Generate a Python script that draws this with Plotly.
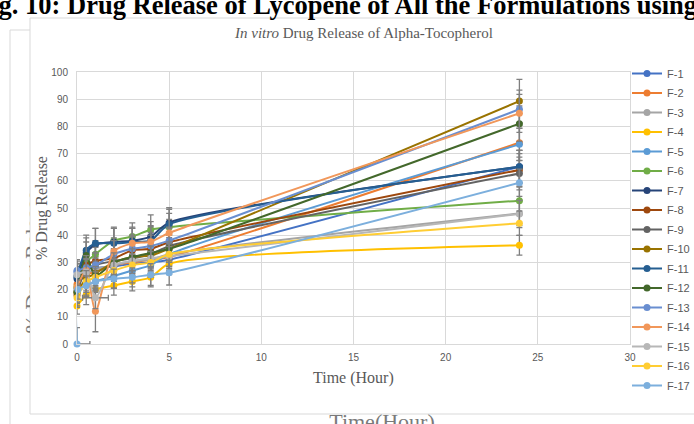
import plotly.graph_objects as go

# Sampling times (hours)
hours = [0, 0.5, 1, 2, 3, 4, 5, 24]
hours_f17 = [0, 0.05, 0.5, 1, 2, 3, 4, 5, 24]

# Cumulative % drug release per formulation
f1 = [26.5, 27.5, 28.0, 28.5, 29.5, 30.0, 31.0, 65.2]
f2 = [22.0, 25.5, 26.5, 29.0, 30.0, 31.0, 32.0, 74.0]
f3 = [24.5, 26.0, 27.5, 29.0, 30.5, 31.0, 33.0, 48.0]
f4 = [14.0, 18.0, 20.0, 21.5, 23.0, 24.5, 29.5, 36.3]
f5 = [20.5, 21.5, 23.0, 25.0, 27.0, 29.0, 33.0, 73.4]
f6 = [21.0, 30.0, 33.0, 38.0, 39.5, 42.0, 43.0, 52.7]
f7 = [24.0, 33.5, 36.5, 37.5, 38.0, 39.5, 44.6, 65.2]
f8 = [18.0, 29.0, 30.5, 31.5, 34.5, 35.0, 37.4, 64.0]
f9 = [19.5, 27.0, 29.0, 30.5, 31.5, 33.0, 36.0, 62.7]
f10 = [19.0, 24.0, 26.0, 30.0, 32.0, 32.5, 35.0, 89.3]
f11 = [25.0, 34.5, 37.0, 37.0, 37.5, 38.0, 44.0, 65.2]
f12 = [19.0, 32.5, 25.0, 30.0, 32.0, 33.5, 35.0, 81.0]
f13 = [27.0, 28.0, 29.0, 33.0, 35.0, 36.0, 38.0, 86.3]
f14 = [21.0, 27.0, 12.0, 34.0, 37.0, 37.6, 40.8, 84.8]
f15 = [25.5, 26.5, 17.0, 29.0, 30.5, 31.5, 32.3, 47.8]
f16 = [17.0, 23.0, 24.5, 27.0, 29.0, 30.0, 33.0, 44.4]
f17 = [0.0, 20.0, 21.5, 23.0, 24.0, 24.5, 25.5, 26.2, 59.3]

# Standard deviations
sd1 = [4.0, 4.5, 4.0, 4.0, 4.5, 4.5, 4.0, 6.0]
sd2 = [3.5, 4.0, 4.0, 4.5, 4.5, 5.0, 4.5, 6.5]
sd3 = [4.0, 4.0, 4.5, 4.0, 4.5, 4.5, 4.0, 4.5]
sd4 = [3.0, 3.5, 3.0, 3.5, 3.5, 3.5, 4.0, 3.6]
sd5 = [3.5, 4.0, 4.0, 4.5, 4.5, 4.5, 4.5, 6.0]
sd6 = [4.0, 5.0, 5.0, 5.0, 5.0, 5.5, 5.0, 5.0]
sd7 = [4.5, 5.5, 6.0, 5.0, 5.0, 5.5, 5.5, 6.0]
sd8 = [4.0, 5.0, 5.0, 5.0, 5.0, 5.0, 5.0, 6.0]
sd9 = [4.0, 4.5, 4.5, 4.5, 4.5, 5.0, 5.0, 6.0]
sd10 = [4.0, 4.5, 4.5, 4.5, 5.0, 5.0, 5.0, 8.0]
sd11 = [4.5, 5.5, 5.5, 5.5, 5.0, 5.5, 5.5, 6.0]
sd12 = [4.0, 5.0, 5.0, 5.0, 5.0, 5.0, 5.0, 6.5]
sd13 = [4.0, 4.5, 4.5, 5.0, 5.0, 5.0, 5.0, 7.0]
sd14 = [4.0, 4.5, 7.5, 5.0, 5.5, 5.5, 5.0, 7.0]
sd15 = [4.0, 4.5, 4.0, 4.5, 4.5, 4.5, 4.5, 5.0]
sd16 = [3.5, 4.0, 4.0, 4.0, 4.0, 4.0, 4.5, 4.5]
sd17 = [6.0, 3.5, 3.5, 3.5, 3.5, 3.5, 4.0, 4.5, 5.0]

# Horizontal (time) error
xerr15 = [0, 0, 0.7, 0, 0, 0, 0, 0]
xerr17 = [0.7, 0, 0, 0, 0, 0, 0, 0, 0]

names = ["F-1", "F-2", "F-3", "F-4", "F-5", "F-6", "F-7", "F-8", "F-9",
         "F-10", "F-11", "F-12", "F-13", "F-14", "F-15", "F-16", "F-17"]
colors = ["#4472C4", "#ED7D31", "#A5A5A5", "#FFC000", "#5B9BD5", "#70AD47",
          "#264478", "#9E480E", "#636363", "#997300", "#255E91", "#43682B",
          "#698ED0", "#F1975A", "#B7B7B7", "#FFCD33", "#7CAFDD"]

series = [f1, f2, f3, f4, f5, f6, f7, f8, f9, f10, f11, f12, f13, f14, f15, f16, f17]
sds = [sd1, sd2, sd3, sd4, sd5, sd6, sd7, sd8, sd9, sd10, sd11, sd12, sd13, sd14, sd15, sd16, sd17]

W, H = 694, 424


def px_x(p):
    return p / W


def px_y(p):
    return (H - p) / H


ERR = "#7f7f7f"
fig = go.Figure()

for i, (name, col, vals, sd) in enumerate(zip(names, colors, series, sds)):
    xs = hours_f17 if name == "F-17" else hours
    ex = None
    if name == "F-15":
        ex = dict(type="data", array=xerr15, color=ERR, thickness=1.3, width=3)
    elif name == "F-17":
        ex = dict(type="data", array=xerr17, arrayminus=[0] * len(xerr17),
                  color=ERR, thickness=1.3, width=3)
    fig.add_trace(go.Scatter(
        x=xs, y=vals, name=name, mode="lines+markers",
        legendgroup=name,
        line=dict(color=col, width=2, shape="spline", smoothing=0.7),
        marker=dict(color=col, size=7, symbol="circle"),
        error_y=dict(type="data", array=sd, color=ERR, thickness=1.3, width=3),
        error_x=ex,
        cliponaxis=False,
    ))

# Text of the underlying page, clipped by the chart frame
fig.add_trace(go.Bar(
    x=[32], y=[200], base=[62], width=[24], orientation="v",
    xaxis="x3", yaxis="y3", showlegend=False, hoverinfo="skip",
    marker=dict(color="rgba(0,0,0,0)", line=dict(width=0)),
    text=["% Drug Release"], textposition="inside", textangle=-90,
    insidetextanchor="middle", constraintext="none", cliponaxis=True,
    insidetextfont=dict(family="Liberation Serif", size=22, color="#7a7a7a"),
))
fig.add_trace(go.Scatter(
    x=[382], y=[1], mode="text", text=["Time(Hour)"],
    textposition="middle center", xaxis="x4", yaxis="y4",
    showlegend=False, hoverinfo="skip", cliponaxis=True,
    textfont=dict(family="Liberation Serif", size=22, color="#7a7a7a"),
))

tickfont = dict(family="Liberation Sans", size=10, color="#595959")
serif = "Liberation Serif"

fig.update_layout(
    width=W, height=H,
    margin=dict(l=0, r=0, t=0, b=0, autoexpand=False),
    paper_bgcolor="white", plot_bgcolor="rgba(0,0,0,0)",
    showlegend=True,
    legend=dict(
        xref="container", yref="container",
        x=px_x(627), y=px_y(59), xanchor="left", yanchor="top",
        font=dict(family="Liberation Sans", size=11, color="#595959"),
        itemwidth=30, tracegroupgap=0.5, bgcolor="rgba(0,0,0,0)",
        traceorder="grouped", maxheight=400,
    ),
    xaxis=dict(
        domain=[px_x(77), px_x(630)], range=[0, 30], dtick=5, tick0=0,
        showgrid=True, gridcolor="#d9d9d9", gridwidth=1,
        showline=True, linecolor="#d9d9d9", linewidth=1, mirror=True,
        zeroline=False, ticks="", tickfont=tickfont, ticklabelstandoff=4,
    ),
    yaxis=dict(
        domain=[80 / H, 352 / H], range=[0, 100], dtick=10, tick0=0,
        showgrid=True, gridcolor="#d9d9d9", gridwidth=1,
        showline=True, linecolor="#d9d9d9", linewidth=1, mirror=True,
        zeroline=False, ticks="", tickfont=tickfont, ticklabelstandoff=6,
    ),
    xaxis3=dict(domain=[0, px_x(30)], range=[0, 30], visible=False, anchor="y3"),
    yaxis3=dict(domain=[0, 1], range=[0, H], visible=False, anchor="x3"),
    xaxis4=dict(domain=[0, 1], range=[0, W], visible=False, anchor="y4"),
    yaxis4=dict(domain=[0, px_y(414)], range=[0, 10], visible=False, anchor="x4"),
    shapes=[
        # chart frame
        dict(type="rect", xref="paper", yref="paper",
             x0=px_x(30), x1=px_x(720), y0=px_y(414), y1=px_y(18),
             line=dict(color="#d9d9d9", width=1), fillcolor="white", layer="below"),
        # frame of the underlying page
        dict(type="line", xref="paper", yref="paper",
             x0=px_x(10), x1=px_x(10), y0=px_y(440), y1=px_y(30),
             line=dict(color="#d9d9d9", width=1), layer="below"),
        dict(type="line", xref="paper", yref="paper",
             x0=px_x(10), x1=px_x(30), y0=px_y(30), y1=px_y(30),
             line=dict(color="#d9d9d9", width=1), layer="below"),
    ],
    annotations=[
        dict(text="<i>In vitro</i> Drug Release of Alpha-Tocopherol",
             xref="paper", yref="paper", x=px_x(363), y=px_y(33),
             xanchor="center", yanchor="middle", showarrow=False,
             font=dict(family=serif, size=15, color="#595959")),
        dict(text="Time (Hour)", xref="paper", yref="paper",
             x=px_x(353), y=px_y(378), xanchor="center", yanchor="middle",
             showarrow=False, font=dict(family=serif, size=16, color="#595959")),
        dict(text="% Drug Release", xref="paper", yref="paper",
             x=px_x(42), y=px_y(208), xanchor="center", yanchor="middle",
             textangle=-90, showarrow=False,
             font=dict(family=serif, size=16, color="#595959")),
        dict(text="<b>Fig. 10: Drug Release of Lycopene of All the Formulations using</b>",
             xref="paper", yref="paper", x=px_x(-27), y=px_y(22),
             xanchor="left", yanchor="bottom", showarrow=False,
             font=dict(family=serif, size=26.5, color="#000000")),
    ],
)

fig.write_html("out.html")
